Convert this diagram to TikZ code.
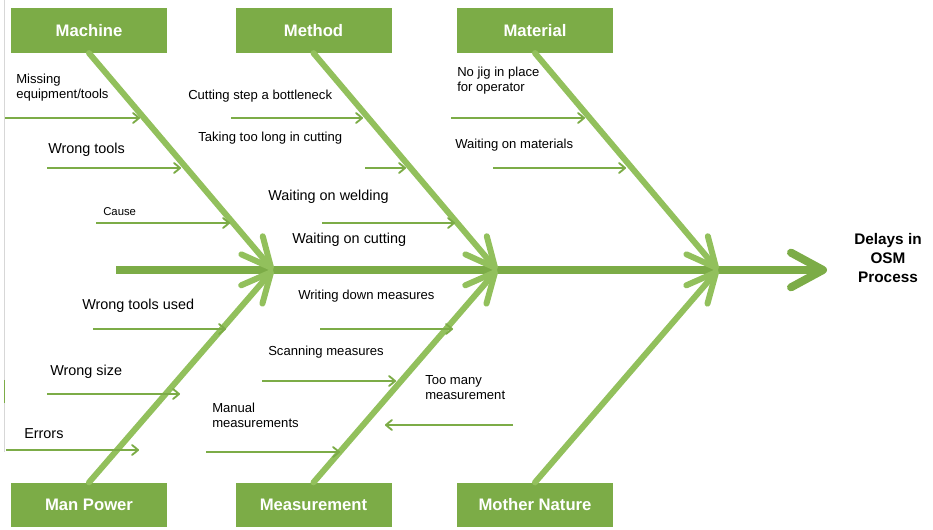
\documentclass[tikz,border=0pt]{standalone}
\usepackage{fontspec}
\setmainfont{Liberation Sans}
\usetikzlibrary{arrows.meta}

\definecolor{boxgreen}{RGB}{124,172,71}
\definecolor{bonegreen}{RGB}{146,192,92}
\definecolor{edgegray}{RGB}{215,215,215}

\tikzset{
  catbox/.style={fill=boxgreen,text=white,minimum width=117pt,minimum height=33.5pt,
    inner sep=0pt,font=\bfseries\fontsize{12.5}{15}\selectfont},
  bone/.style={bonegreen,line width=4.5pt,line cap=round,
    -{Straight Barb[length=22pt,width=21pt,round]}},
  spine/.style={boxgreen,line width=6pt,
    -{Straight Barb[length=24pt,width=26pt,round]}},
  cause/.style={boxgreen,line width=1.4pt,
    -{Straight Barb[length=4.5pt,width=7.5pt,round]}},
  lbl/.style={anchor=west,inner sep=0pt,align=left,font=\fontsize{9.8}{11.2}\selectfont},
  biglbl/.style={lbl,font=\fontsize{10.8}{13}\selectfont}
}

\begin{document}
\begin{tikzpicture}[x=0.75pt,y=-0.75pt]
  \useasboundingbox (0,0) rectangle (933,530);
  \draw[edgegray,line width=0.6pt] (4,0) -- (4,452);
  \draw[boxgreen,line width=0.6pt] (4,380) -- (4,403);

  % category boxes
  \node[catbox] (machine)     at (89,30.5)    {Machine};
  \node[catbox] (method)      at (313.5,30.5) {Method};
  \node[catbox] (material)    at (535,30.5)   {Material};
  \node[catbox] (manpower)    at (89,505)     {Man Power};
  \node[catbox] (measurement) at (313.5,505)  {Measurement};
  \node[catbox] (nature)      at (535,505)    {Mother Nature};

  % effect
  \node[inner sep=0pt,align=center,font=\bfseries\fontsize{11.5}{14}\selectfont]
    (effect) at (888,258) {Delays in\\OSM\\Process};

  % spine and bones
  \coordinate (tail) at (116,270);
  \coordinate (head) at (827,270);
  \coordinate (j1) at (273,270);
  \coordinate (j2) at (497,270);
  \coordinate (j3) at (718,270);
  \draw[spine] (tail) -- (head);
  \draw[bone] (machine.south) -- (j1);
  \draw[bone] (method.south) -- (j2);
  \draw[bone] (material.south) -- (j3);
  \draw[bone] (manpower.north) -- (j1);
  \draw[bone] (measurement.north) -- (j2);
  \draw[bone] (nature.north) -- (j3);

  % causes
  \node[lbl] (missing)  at (16,88)   {Missing\\equipment/tools};
  \node[biglbl] (wrongtools) at (48,150) {Wrong tools};
  \node[lbl,font=\fontsize{8.5}{10}\selectfont] (cause) at (103,212) {Cause};
  \node[lbl] (bottleneck) at (188,96)  {Cutting step a bottleneck};
  \node[lbl] (toolong)    at (198,138) {Taking too long in cutting};
  \node[biglbl] (welding) at (268,197) {Waiting on welding};
  \node[biglbl] (cutting) at (292,240) {Waiting on cutting};
  \node[lbl] (nojig)      at (457,81)  {No jig in place\\for operator};
  \node[lbl] (materials)  at (455,145) {Waiting on materials};
  \node[biglbl] (toolsused) at (82,306) {Wrong tools used};
  \node[biglbl] (wrongsize) at (50,372) {Wrong size};
  \node[biglbl] (errors)    at (24,434) {Errors};
  \node[lbl] (writing)  at (298,296) {Writing down measures};
  \node[lbl] (scanning) at (268,352) {Scanning measures};
  \node[lbl] (manual)   at (212,415) {Manual\\measurements};
  \node[lbl] (toomany)  at (425,388) {Too many\\measurement};

  \foreach \n/\xa/\xb/\y in {a/5/140/118, b/47/181/168, c/96/230/223,
      d/231/363/118, e/365/406/168, f/322/455/223,
      g/451/585/118, h/493/626/168,
      i/93/226/329, j/47/180/394, k/6/139/450,
      l/320/453/329, m/262/396/381, n/206/340/452, o/513/385/425} {
    \coordinate (\n s) at (\xa,\y);
    \coordinate (\n e) at (\xb,\y);
    \draw[cause] (\n s) -- (\n e);
  }
\end{tikzpicture}
\end{document}
